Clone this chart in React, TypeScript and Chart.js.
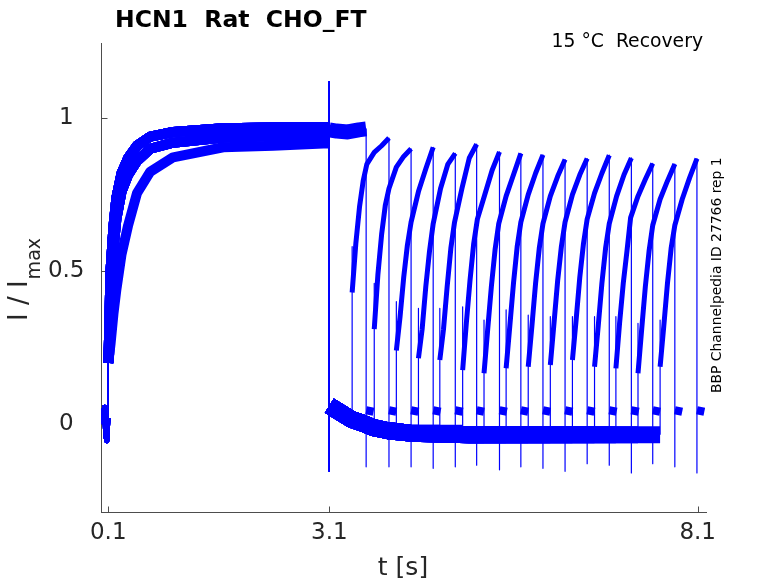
import React, { useEffect, useRef } from 'react';
import { Chart, registerables } from 'chart.js';

Chart.register(...registerables);
Chart.defaults.font.family = '"DejaVu Sans", sans-serif';

// axis ticks
const xTicks = [0.1, 3.1, 8.1];
const yTicks = [0, 0.5, 1];

// holding level before the prepulse
const preT = [0.008, 0.03, 0.05, 0.065, 0.08, 0.095, 0.1];
const preI = [0.0, 0.03, 0.055, -0.035, -0.055, 0.02, 0.0];
const onsetSpike = 0.61;

// prepulse activation (0.1 .. 3.1 s): two fast bands and one slow sweep
const actT = [0.1, 0.11, 0.13, 0.17, 0.21, 0.28, 0.37, 0.49, 0.67, 0.98, 1.66, 2.34, 3.02, 3.1];
const actFastHi = [0.2, 0.28, 0.5, 0.645, 0.74, 0.82, 0.87, 0.91, 0.94, 0.955, 0.967, 0.97, 0.97, 0.97];
const actFastLo = [0.2, 0.22, 0.42, 0.57, 0.67, 0.76, 0.815, 0.86, 0.9, 0.92, 0.937, 0.942, 0.945, 0.945];
const actSlow = [0.2, 0.22, 0.26, 0.36, 0.44, 0.555, 0.65, 0.755, 0.825, 0.872, 0.905, 0.91, 0.917, 0.917];
const sweepAct = [0, 0, 1, 0, 1, 0, 2, 0, 1, 0, 1, 0, 1, 0, 1, 0];

// step back at 3.1 s
const stepT = 3.1;
const stepUp = 1.12;
const stepDown = -0.155;

// sweep 0 (no gap): current held until the end of its test pulse
const holdT = [3.1, 3.2, 3.35, 3.5, 3.6];
const holdI = [0.962, 0.958, 0.955, 0.962, 0.965];

// tail current after the step
const tailT = [3.1, 3.2, 3.3, 3.4, 3.55, 3.7, 3.9, 4.2, 5.0, 6.0, 7.0];
const tailI = [0.06, 0.045, 0.03, 0.015, 0.003, -0.012, -0.022, -0.03, -0.035, -0.035, -0.035];

// test pulses
const testLen = 0.5;
const testStart = [3.1, 3.41, 3.71, 4.01, 4.31, 4.6, 4.91, 5.2, 5.5, 5.8, 6.1, 6.4, 6.7, 6.99, 7.29, 7.59];
const testSpike = [0, 0.58, 0.46, 0.4, 0.378, 0.378, 0.383, 0.34, 0.373, 0.356, 0.351, 0.351, 0.351, 0.351, 0.329, 0.34];
const testDt = [0, 0.05, 0.1, 0.15, 0.2, 0.3, 0.4, 0.5];
const test1 = [0.43, 0.59, 0.71, 0.795, 0.85, 0.888, 0.91, 0.935];
const test2 = [0.31, 0.49, 0.62, 0.715, 0.77, 0.84, 0.875, 0.9];
const test3 = [0.24, 0.35, 0.48, 0.585, 0.66, 0.76, 0.835, 0.905];
const test4 = [0.215, 0.31, 0.45, 0.565, 0.655, 0.77, 0.85, 0.885];
const test5 = [0.209, 0.31, 0.45, 0.575, 0.66, 0.77, 0.87, 0.915];
const test6 = [0.176, 0.33, 0.47, 0.59, 0.67, 0.75, 0.83, 0.89];
const test7 = [0.166, 0.31, 0.45, 0.57, 0.655, 0.745, 0.815, 0.885];
const test8 = [0.182, 0.32, 0.46, 0.58, 0.66, 0.75, 0.82, 0.88];
const test9 = [0.187, 0.32, 0.46, 0.575, 0.655, 0.745, 0.81, 0.865];
const test10 = [0.193, 0.33, 0.47, 0.58, 0.66, 0.75, 0.815, 0.868];
const test11 = [0.209, 0.34, 0.48, 0.59, 0.67, 0.755, 0.82, 0.879];
const test12 = [0.187, 0.32, 0.46, 0.575, 0.655, 0.745, 0.815, 0.87];
const test13 = [0.182, 0.33, 0.46, 0.565, 0.675, 0.745, 0.8, 0.852];
const test14 = [0.166, 0.31, 0.45, 0.565, 0.65, 0.735, 0.795, 0.85];
const test15 = [0.187, 0.32, 0.46, 0.575, 0.65, 0.735, 0.805, 0.868];
const testDip = [-0.14, -0.14, -0.14, -0.145, -0.14, -0.135, -0.15, -0.14, -0.145, -0.155, -0.13, -0.135, -0.16, -0.13, -0.14, -0.16];

// short tail after each test pulse
const postDt = [0, 0.1];
const postI = [0.045, 0.04];

const actCurves = [actFastHi, actFastLo, actSlow];
const testCurves = [holdI, test1, test2, test3, test4, test5, test6, test7, test8, test9, test10, test11, test12, test13, test14, test15];

const traceColor = '#0000ff';
const axisColor = '#4d4d4d';
const labelColor = '#262626';
const phaseWidth: Record<string, number> = { pre: 5, act: 10, hold: 15, tail: 17, test: 5, post: 8 };

type Pt = { x: number; y: number; phase: string };

const buildSweep = (k: number): Pt[] => {
  const pts: Pt[] = [];
  const add = (x: number, y: number, phase: string) => pts.push({ x, y, phase });
  preT.forEach((t, i) => add(t, preI[i], 'pre'));
  add(actT[0], onsetSpike, 'act');
  const act = actCurves[sweepAct[k]];
  actT.forEach((t, i) => add(t, act[i], 'act'));
  add(stepT, stepUp, 'act');
  const start = testStart[k];
  const end = start + testLen;
  if (k === 0) {
    holdT.forEach((t, i) => add(t, holdI[i], 'hold'));
  } else {
    add(stepT, stepDown, 'tail');
    let base = tailI[0];
    tailT.forEach((t, i) => {
      if (t < start) {
        add(t, tailI[i], 'tail');
        base = tailI[i];
      }
    });
    add(start, base, 'tail');
    add(start, testSpike[k], 'test');
    const curve = testCurves[k];
    testDt.forEach((d, i) => add(start + d, curve[i], 'test'));
  }
  add(end, testDip[k], 'post');
  postDt.forEach((d, i) => add(end + d, postI[i], 'post'));
  return pts;
};

const decorPlugin = {
  id: 'decor',
  beforeDatasetsDraw(chart: any) {
    const { ctx, chartArea, scales } = chart;
    ctx.save();
    ctx.strokeStyle = axisColor;
    ctx.lineWidth = 1;
    xTicks.forEach((v) => {
      const p = Math.round(scales.x.getPixelForValue(v)) + 0.5;
      ctx.beginPath();
      ctx.moveTo(p, chartArea.bottom);
      ctx.lineTo(p, chartArea.bottom - 6);
      ctx.stroke();
    });
    yTicks.forEach((v) => {
      const p = Math.round(scales.y.getPixelForValue(v)) + 0.5;
      ctx.beginPath();
      ctx.moveTo(chartArea.left, p);
      ctx.lineTo(chartArea.left + 6, p);
      ctx.stroke();
    });
    ctx.restore();
  },
  afterDraw(chart: any) {
    const { ctx } = chart;
    ctx.save();
    // title
    ctx.fillStyle = '#000';
    ctx.textBaseline = 'alphabetic';
    ctx.textAlign = 'left';
    ctx.font = 'bold 23.5px "DejaVu Sans"';
    ctx.fillText('HCN1  Rat  CHO_FT', 115, 27);
    ctx.textAlign = 'right';
    ctx.font = '18.8px "DejaVu Sans"';
    ctx.fillText('15 °C  Recovery', 703, 47);
    // source note on the right
    ctx.save();
    ctx.translate(721, 393);
    ctx.rotate(-Math.PI / 2);
    ctx.textAlign = 'left';
    ctx.font = '13.9px "DejaVu Sans"';
    ctx.fillText('BBP Channelpedia ID 27766 rep 1', 0, 0);
    ctx.restore();
    // y label with subscript
    ctx.fillStyle = labelColor;
    ctx.save();
    ctx.translate(27, 321);
    ctx.rotate(-Math.PI / 2);
    ctx.textAlign = 'left';
    ctx.font = '26px "DejaVu Sans"';
    const main = 'I / I';
    ctx.fillText(main, 0, 0);
    const w = ctx.measureText(main).width;
    ctx.font = '19px "DejaVu Sans"';
    ctx.fillText('max', w + 1, 13);
    ctx.restore();
    // x label
    ctx.textAlign = 'center';
    ctx.font = '25px "DejaVu Sans"';
    ctx.fillText('t [s]', 403, 575);
    ctx.restore();
  },
};

export default function App() {
  const canvasRef = useRef<HTMLCanvasElement>(null);

  useEffect(() => {
    const canvas = canvasRef.current;
    if (!canvas) return;
    const sweeps = testStart.map((_, k) => buildSweep(k));
    const tickFont = { family: '"DejaVu Sans"', size: 23 };

    const chart = new Chart(canvas, {
      type: 'line',
      data: {
        datasets: sweeps.map((pts, k) => ({
          label: `sweep ${k}`,
          data: pts,
          borderColor: traceColor,
          borderWidth: 5,
          pointRadius: 0,
          tension: 0,
          borderJoinStyle: 'round',
          borderCapStyle: 'butt',
          segment: {
            borderWidth: (c: any) =>
              Math.abs(c.p1.x - c.p0.x) < 0.6 ? 1.2 : phaseWidth[pts[c.p1DataIndex].phase],
          },
        })),
      },
      options: {
        animation: false,
        responsive: false,
        events: [],
        layout: { padding: { top: 43, right: 72, left: 0, bottom: 0 } },
        plugins: { legend: { display: false }, tooltip: { enabled: false } },
        scales: {
          x: {
            type: 'linear',
            min: 0.008,
            max: 8.213,
            grid: { display: false, drawTicks: false },
            border: { display: true, color: axisColor, width: 1 },
            afterBuildTicks: (s: any) => {
              s.ticks = xTicks.map((v) => ({ value: v }));
            },
            afterFit: (s: any) => {
              s.height = 70.5;
            },
            ticks: {
              font: tickFont,
              color: labelColor,
              padding: 7,
              maxRotation: 0,
              autoSkip: false,
              callback: (v: any) => String(v),
            },
          },
          y: {
            type: 'linear',
            min: -0.2895,
            max: 1.246,
            grid: { display: false, drawTicks: false },
            border: { display: true, color: axisColor, width: 1 },
            afterBuildTicks: (s: any) => {
              s.ticks = yTicks.map((v) => ({ value: v }));
            },
            afterFit: (s: any) => {
              s.width = 101.5;
            },
            ticks: {
              font: tickFont,
              color: labelColor,
              padding: 17,
              crossAlign: 'center',
              autoSkip: false,
              callback: (v: any) => String(v),
            },
          },
        },
      } as any,
      plugins: [decorPlugin],
    });

    return () => chart.destroy();
  }, []);

  return (
    <div style={{ position: 'fixed', left: 0, top: 0, width: 778, height: 583, background: '#fff' }}>
      <canvas ref={canvasRef} width={778} height={583} style={{ width: 778, height: 583, display: 'block' }} />
    </div>
  );
}
